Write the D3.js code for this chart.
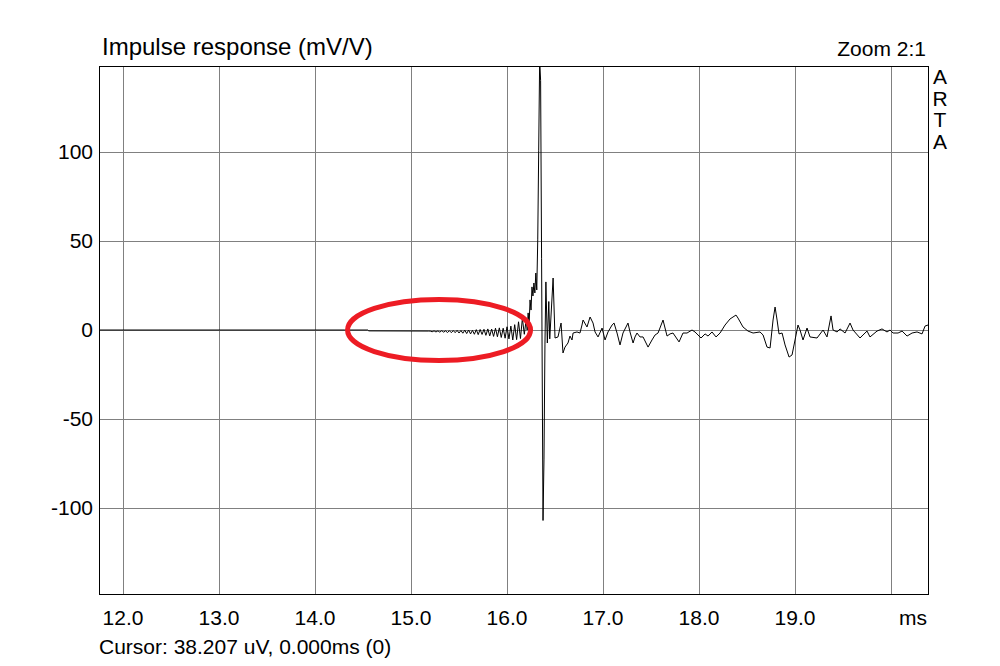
<!DOCTYPE html>
<html>
<head>
<meta charset="utf-8">
<script src="https://cdn.jsdelivr.net/npm/d3@7"></script>
<style>
  body { margin: 0; background: #fff; }
  text { font-family: "Liberation Sans", Arial, sans-serif; fill: #000; }
</style>
</head>
<body>
<svg id="chart" width="1000" height="666"></svg>
<script>
// axis ticks
const xTicks = [12, 13, 14, 15, 16, 17, 18, 19, 20];
const xTickLabels = ["12.0", "13.0", "14.0", "15.0", "16.0", "17.0", "18.0", "19.0", "ms"];
const yTicks = [100, 50, 0, -50, -100];
const xDomain = [11.75, 20.385];
const yDomain = [-148.3, 148.3];

// impulse response, [ms, mV/V]
const leadIn = [[11.75, 0], [14.31, 0], [14.55, 0], [14.56, -0.5], [15.18, -0.6]];

const preRinging = [
  [15.20, -0.6], [15.22, -1.0], [15.24, -0.5], [15.26, -1.1], [15.28, -0.5],
  [15.30, -1.2], [15.32, -0.4], [15.34, -1.2], [15.36, -0.5], [15.38, -1.4],
  [15.40, -0.4], [15.42, -1.5], [15.44, -0.3], [15.46, -1.5], [15.48, -0.2],
  [15.50, -1.7], [15.52, -0.3], [15.54, -1.8], [15.56, -0.1], [15.58, -2.0],
  [15.60, 0.0], [15.62, -2.2], [15.64, -0.2], [15.66, -2.4], [15.68, 0.2],
  [15.70, -2.6], [15.72, 0.3], [15.74, -2.5], [15.76, 0.4], [15.78, -3.0],
  [15.80, 0.6], [15.82, -3.3], [15.84, 0.5], [15.86, -3.6], [15.88, 1.0],
  [15.90, -3.8], [15.92, 1.2], [15.94, -4.2], [15.96, 1.0], [15.98, -4.6],
  [16.00, 1.8], [16.02, -5.0], [16.04, 2.2], [16.06, -5.6], [16.08, 3.0],
  [16.10, -5.4], [16.12, 4.6], [16.14, -4.8], [16.16, 6.5], [16.18, -2.4]
];

const mainPulse = [
  [16.20, 6.0], [16.21, 0.0], [16.22, 9.6], [16.23, 2.8], [16.24, 16.9],
  [16.25, 11.2], [16.26, 24.2], [16.27, 19.1], [16.28, 26.4], [16.29, 20.8],
  [16.30, 32.0], [16.31, 22.5], [16.32, 50.6], [16.33, 101], [16.34, 152],
  [16.35, 140], [16.36, 40], [16.375, -107], [16.385, -73], [16.395, -8.4],
  [16.405, 27.0], [16.42, -7.3], [16.435, 16.0], [16.445, -5.0], [16.48, 29.2]
];

const tail = [
  [16.50, -4.5], [16.531, -3.9], [16.563, 3.9], [16.583, -12.9], [16.604, -9.6],
  [16.635, -7.3], [16.656, -3.4], [16.677, -5.6], [16.688, -1.7], [16.729, -1.1],
  [16.76, -1.7], [16.781, 2.8], [16.792, 5.6], [16.833, 1.7], [16.865, 7.3],
  [16.896, 3.9], [16.917, -1.1], [16.948, -3.9], [16.99, 1.1], [17.021, -5.6],
  [17.052, -1.1], [17.094, 2.8], [17.115, 3.9], [17.146, -1.7], [17.177, -8.4],
  [17.208, -1.7], [17.26, 3.9], [17.281, -1.1], [17.313, -7.3], [17.333, -3.9],
  [17.354, -1.7], [17.385, -3.9], [17.417, -3.9], [17.469, -9.6], [17.51, -5.6],
  [17.542, -2.8], [17.573, -1.7], [17.625, 5.6], [17.667, -3.4], [17.698, -2.2],
  [17.729, -1.7], [17.792, -6.7], [17.833, -1.7], [17.875, -1.7], [17.927, 0],
  [17.958, -1.1], [18.021, -4.5], [18.063, -2.2], [18.094, -3.4], [18.135, -1.1],
  [18.177, -3.9], [18.219, -1.7], [18.271, 2.8], [18.323, 6.2], [18.385, 8.4],
  [18.406, 6.7], [18.458, 1.7], [18.51, -0.6], [18.563, -1.7], [18.635, -1.1],
  [18.667, -2.8], [18.708, -9.6], [18.74, -10.1], [18.771, 5.6], [18.792, 12.9],
  [18.813, 5.6], [18.833, -2.2], [18.865, -1.7], [18.896, -8.4], [18.938, -15.2],
  [18.969, -14], [19.0, -5.6], [19.031, 2.8], [19.052, 0], [19.083, -5.6],
  [19.125, 1.1], [19.156, -3.9], [19.229, -4.5], [19.292, 0], [19.333, -3.9],
  [19.375, 7.9], [19.396, 0], [19.438, -1.1], [19.469, 0.6], [19.521, -1.7],
  [19.573, 3.9], [19.604, 0], [19.677, -4.5], [19.708, -2.8], [19.75, -0.6],
  [19.781, -3.9], [19.854, -0.6], [19.906, 0.6], [19.958, -1.1], [19.99, 0],
  [20.021, -1.7], [20.073, -1.7], [20.115, -0.6], [20.167, -3.4], [20.219, -1.7],
  [20.271, -1.1], [20.323, -2.2], [20.354, 2.2], [20.385, 2.8]
];

// red annotation ellipse: centre ms, centre mV/V, half-width ms, half-height mV/V
const highlight = { t: 15.292, v: 0, dt: 0.953, dv: 17.1 };

// SETUP
const margin = { top: 66, right: 72, bottom: 72, left: 99 },
      width = 1000 - margin.left - margin.right,
      height = 666 - margin.top - margin.bottom;

const svg = d3.select("#chart");
const g = svg.append("g")
    .attr("transform", `translate(${margin.left},${margin.top})`);

// SCALES
const x = d3.scaleLinear().domain(xDomain).range([0, width]);
const y = d3.scaleLinear().domain(yDomain).range([height, 0]);

// GRID
g.append("g")
    .selectAll("line")
    .data(xTicks)
    .join("line")
    .attr("x1", d => Math.round(x(d)) + 0.5)
    .attr("x2", d => Math.round(x(d)) + 0.5)
    .attr("y1", 0)
    .attr("y2", height)
    .attr("stroke", "#808080");

g.append("g")
    .selectAll("line")
    .data(yTicks)
    .join("line")
    .attr("x1", 0)
    .attr("x2", width)
    .attr("y1", d => Math.round(y(d)) + 0.5)
    .attr("y2", d => Math.round(y(d)) + 0.5)
    .attr("stroke", "#808080");

// TRACE
g.append("clipPath").attr("id", "plotClip")
  .append("rect").attr("width", width).attr("height", height);

const line = d3.line()
    .x(d => x(d[0]))
    .y(d => y(d[1]));

const trace = [...leadIn, ...preRinging, ...mainPulse, ...tail];

g.append("path")
    .datum(trace)
    .attr("clip-path", "url(#plotClip)")
    .attr("d", line)
    .attr("fill", "none")
    .attr("stroke", "#000")
    .attr("stroke-width", 1);

// FRAME
g.append("rect")
    .attr("x", 0.5).attr("y", 0.5)
    .attr("width", width).attr("height", height)
    .attr("fill", "none")
    .attr("stroke", "#000");

// ANNOTATION
g.append("ellipse")
    .attr("cx", x(highlight.t))
    .attr("cy", y(highlight.v))
    .attr("rx", x(highlight.t + highlight.dt) - x(highlight.t))
    .attr("ry", y(highlight.v) - y(highlight.v + highlight.dv))
    .attr("fill", "none")
    .attr("stroke", "#ed1c24")
    .attr("stroke-width", 5);

// AXIS LABELS
g.append("g")
    .selectAll("text")
    .data(xTicks)
    .join("text")
    .attr("x", (d, i) => i === xTicks.length - 1 ? width - 1 : x(d))
    .attr("y", height + 31)
    .attr("text-anchor", (d, i) => i === xTicks.length - 1 ? "end" : "middle")
    .style("font-size", "21px")
    .text((d, i) => xTickLabels[i]);

g.append("g")
    .selectAll("text")
    .data(yTicks)
    .join("text")
    .attr("x", -6)
    .attr("y", d => y(d) + 7)
    .attr("text-anchor", "end")
    .style("font-size", "21px")
    .text(d => d);

// TITLES
svg.append("text")
    .attr("x", 102).attr("y", 55)
    .style("font-size", "24px")
    .text("Impulse response (mV/V)");

svg.append("text")
    .attr("x", 926).attr("y", 56)
    .attr("text-anchor", "end")
    .style("font-size", "21px")
    .text("Zoom 2:1");

svg.append("g")
    .selectAll("text")
    .data(["A", "R", "T", "A"])
    .join("text")
    .attr("x", 940)
    .attr("y", (d, i) => 84 + i * 21.5)
    .attr("text-anchor", "middle")
    .style("font-size", "21px")
    .text(d => d);

svg.append("text")
    .attr("x", 99).attr("y", 654)
    .style("font-size", "21px")
    .text("Cursor: 38.207 uV, 0.000ms (0)");
</script>
</body>
</html>
